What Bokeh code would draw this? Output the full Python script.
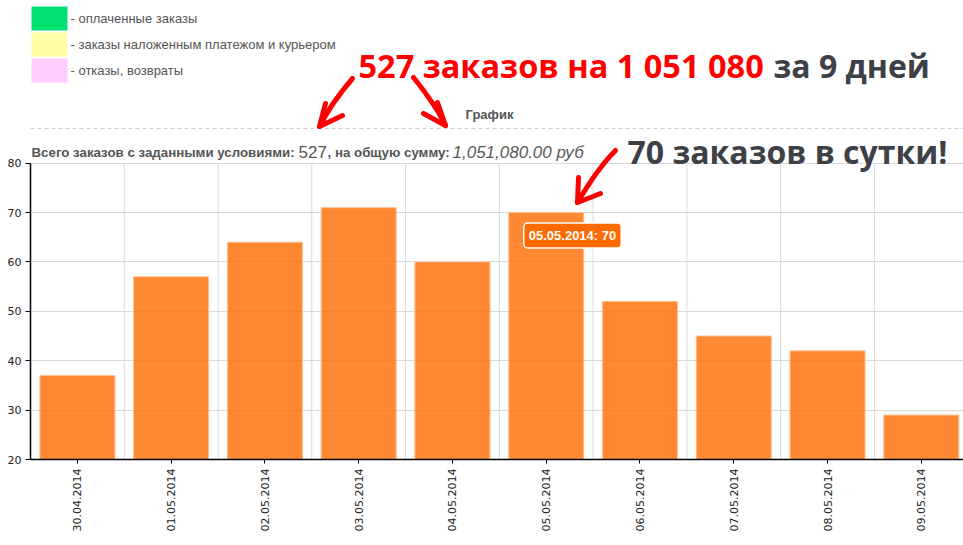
import numpy as np
from bokeh.plotting import figure
from bokeh.models import Range1d, FixedTicker, Label, LinearAxis, Grid
from bokeh.embed import file_html
from bokeh.resources import INLINE

# ---- data ----
dates = ["30.04.2014", "01.05.2014", "02.05.2014", "03.05.2014", "04.05.2014",
         "05.05.2014", "06.05.2014", "07.05.2014", "08.05.2014", "09.05.2014"]
orders = [37, 57, 64, 71, 60, 70, 52, 45, 42, 29]
y_ticks = [20, 30, 40, 50, 60, 70, 80]
legend_labels = ["- оплаченные заказы", "- заказы наложенным платежом и курьером", "- отказы, возвраты"]
legend_colors = ["#00e070", "#ffffa8", "#ffccff"]
total_orders = 527
total_sum = 1051080
days = 9
per_day = 70
highlight = 5

xs = np.arange(len(dates)) + 0.5
tick_map = {float(x): d for x, d in zip(xs, dates)}

p = figure(width=963, height=545, x_range=Range1d(0, 9.95), y_range=Range1d(20, 112.95),
           output_backend="svg", toolbar_location=None,
           x_axis_type=None, y_axis_type=None,
           min_border_left=30, min_border_right=0, min_border_top=0, min_border_bottom=86)
p.outline_line_color = None
p.background_fill_color = "white"
p.border_fill_color = "white"

# page-pixel helper ranges for annotations
p.extra_x_ranges["px"] = Range1d(30, 963)
p.extra_y_ranges["px"] = Range1d(459, 0)

# grid
p.add_layout(Grid(dimension=1, ticker=FixedTicker(ticks=y_ticks[1:]),
                  grid_line_color="#d9d9d9", grid_line_width=1))
bounds = np.arange(1, len(dates) + 1)
p.segment(x0=bounds, y0=[y_ticks[0]] * len(bounds), x1=bounds, y1=[y_ticks[-1]] * len(bounds),
          line_color="#d9d9d9", line_width=1, level="underlay")

# bars
p.vbar(x=xs, top=orders, bottom=y_ticks[0], width=0.8,
       fill_color="#ff6a00", fill_alpha=0.8, line_color="#ffbf91", line_width=1)

# axes
yaxis = LinearAxis(ticker=FixedTicker(ticks=y_ticks), bounds=(y_ticks[0], y_ticks[-1]))
yaxis.axis_line_color = "black"
yaxis.axis_line_width = 1.5
yaxis.major_tick_out = 5
yaxis.major_tick_in = 0
yaxis.minor_tick_line_color = None
yaxis.major_label_text_font = "DejaVu Sans"
yaxis.major_label_text_font_size = "11px"
yaxis.major_label_text_color = "#222222"
yaxis.major_label_standoff = 4
p.add_layout(yaxis, "left")

xaxis = LinearAxis(ticker=FixedTicker(ticks=list(xs)))
xaxis.major_label_overrides = tick_map
xaxis.major_label_orientation = np.pi / 2
xaxis.axis_line_color = "black"
xaxis.axis_line_width = 1.5
xaxis.major_tick_out = 4
xaxis.major_tick_in = 0
xaxis.minor_tick_line_color = None
xaxis.major_label_text_font = "DejaVu Sans"
xaxis.major_label_text_font_size = "11px"
xaxis.major_label_text_color = "#222222"
xaxis.major_label_standoff = 5
p.add_layout(xaxis, "below")

# legend swatches
sw_top = [6, 32, 58]
sw_bot = [30, 56, 82]
p.quad(left=31, right=67, top=sw_top, bottom=sw_bot, fill_color=legend_colors, line_color=None,
       x_range_name="px", y_range_name="px")
for lab, yc in zip(legend_labels, [18, 44, 70]):
    p.add_layout(Label(x=70, y=yc, text=lab, x_range_name="px", y_range_name="px",
                       text_font="Liberation Sans", text_font_size="13px", text_color="#555555",
                       text_baseline="middle"))

# headline
num_txt = f"{total_sum:,}".replace(",", " ")
p.add_layout(Label(x=358, y=64.5, text=f"{total_orders} заказов на {num_txt}",
                   x_range_name="px", y_range_name="px", text_font="Open Sans",
                   text_font_style="bold", text_font_size="32.5px", text_color="#ff0000",
                   text_baseline="alphabetic"))
p.add_layout(Label(x=773, y=64.5, text=f"за {days} дней",
                   x_range_name="px", y_range_name="px", text_font="Open Sans",
                   text_font_style="bold", text_font_size="32px", text_color="#3d4046",
                   text_baseline="alphabetic"))

# chart title and dashed separator
p.add_layout(Label(x=489, y=114, text="График", x_range_name="px", y_range_name="px",
                   text_font="Liberation Sans", text_font_style="bold", text_font_size="13px",
                   text_color="#555555", text_align="center", text_baseline="middle"))
p.segment(x0=[30], y0=[128], x1=[963], y1=[128], line_color="#cccccc", line_width=1,
          line_dash="4 3", x_range_name="px", y_range_name="px")

# summary line
base = 151.5
p.add_layout(Label(x=31, y=base, text="Всего заказов с заданными условиями:",
                   x_range_name="px", y_range_name="px", text_font="Liberation Sans",
                   text_font_style="bold", text_font_size="13.3px", text_color="#555555",
                   text_baseline="alphabetic"))
p.add_layout(Label(x=298, y=base, text=f"{total_orders}",
                   x_range_name="px", y_range_name="px", text_font="Liberation Sans",
                   text_font_size="17px", text_color="#555555", text_baseline="alphabetic"))
p.add_layout(Label(x=327, y=base, text=", на общую сумму:",
                   x_range_name="px", y_range_name="px", text_font="Liberation Sans",
                   text_font_style="bold", text_font_size="13.3px", text_color="#555555",
                   text_baseline="alphabetic"))
p.add_layout(Label(x=452, y=base, text=f"{total_sum:,.2f} руб",
                   x_range_name="px", y_range_name="px", text_font="Liberation Sans",
                   text_font_style="italic", text_font_size="17px", text_color="#5a5a5a",
                   text_baseline="alphabetic"))

# 70 per day
p.add_layout(Label(x=627, y=150.5, text=f"{per_day} заказов в сутки!",
                   x_range_name="px", y_range_name="px", text_font="Open Sans",
                   text_font_style="bold", text_font_size="32px", text_color="#3d4046",
                   text_baseline="alphabetic"))

# tooltip
p.add_layout(Label(x=572, y=235, text=f"{dates[highlight]}: {orders[highlight]}",
                   x_range_name="px", y_range_name="px", text_font="Liberation Sans",
                   text_font_style="bold", text_font_size="13px", text_color="white",
                   text_align="center", text_baseline="middle",
                   background_fill_color="#ff6a00", border_line_color="white",
                   border_line_width=1.5, padding=5, border_radius=4))

# red arrows (decoration)
p.bezier(x0=[352, 413, 615], y0=[78, 77, 150],
         x1=[319, 445, 577], y1=[126, 125, 202],
         cx0=[340, 425, 600], cy0=[92, 92, 165],
         cx1=[328, 437, 587], cy1=[108, 108, 185],
         line_color="#ff0000", line_width=5, line_cap="round",
         x_range_name="px", y_range_name="px")
p.multi_line(xs=[[325, 319, 342], [437, 445, 423], [578, 577, 600]],
             ys=[[103, 126, 115], [102, 125, 113], [177, 202, 193]],
             line_color="#ff0000", line_width=5, line_cap="round", line_join="round",
             x_range_name="px", y_range_name="px")

open("out.html", "w").write(file_html(p, INLINE))
